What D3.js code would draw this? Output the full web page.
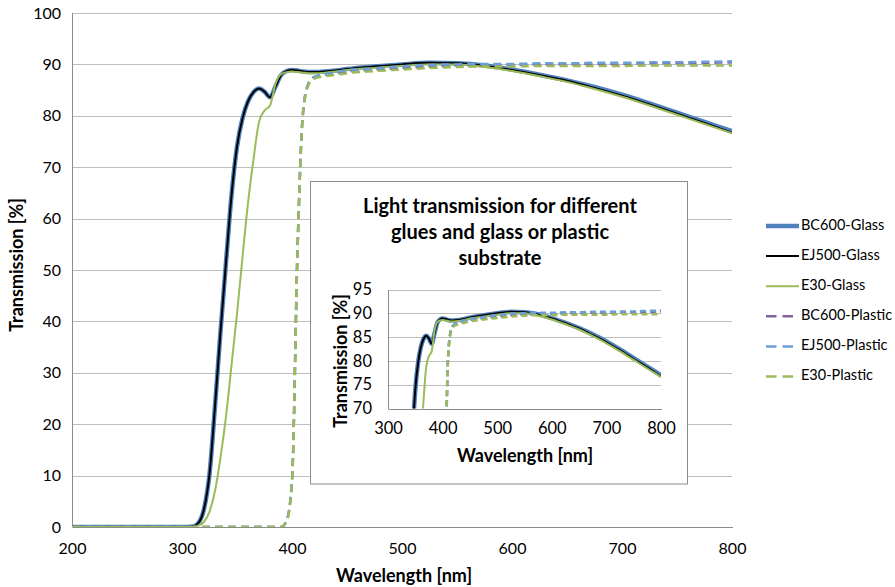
<!DOCTYPE html>
<html>
<head>
<meta charset="utf-8">
<script src="https://cdn.jsdelivr.net/npm/d3@7"></script>
<style>
    body { margin: 0; background: #fff; }
    text { font-family: Lato, 'Open Sans', sans-serif; fill: #000; }
</style>
</head>
<body>
<div id="chart"></div>
<script>
// # Data.
const wavelength = [200, 250, 300, 310, 315, 320, 325, 330, 335, 340, 345, 350, 355, 360, 365,
    370, 375, 380, 385, 390, 395, 400, 405, 410, 415, 420, 430, 440, 450, 475, 500, 525, 550,
    575, 600, 625, 650, 675, 700, 725, 750, 775, 800]

const bc600Glass = [0, 0, 0, 0.1, 0.8, 3.5, 10.3, 23.5, 38, 51.5, 64.5, 74, 79.5, 82.8, 84.6,
    85.3, 84.7, 83.6, 85.7, 87.9, 88.7, 88.9, 88.8, 88.6, 88.5, 88.5, 88.6, 88.8, 89.1, 89.6, 90.0, 90.3, 90.2,
    89.8, 89.0, 88.0, 86.9, 85.6, 84.1, 82.4, 80.6, 78.8, 77.0]
const ej500Glass = [0, 0, 0, 0.1, 0.8, 3.5, 10.3, 23.5, 38, 51.5, 64.5, 74, 79.5, 82.8, 84.6,
    85.3, 84.7, 83.6, 85.7, 87.9, 88.7, 88.9, 88.8, 88.6, 88.5, 88.5, 88.6, 88.8, 89.1, 89.6, 90.0, 90.3, 90.2,
    89.7, 88.9, 87.9, 86.8, 85.4, 83.9, 82.2, 80.4, 78.6, 76.7]
const e30Glass = [0, 0, 0, 0, 0.3, 1, 3, 7, 13.5, 21.5, 31.5, 41.5, 52.5, 63, 71.5,
    78.8, 81, 82, 86.2, 88.1, 88.5, 88.6, 88.5, 88.4, 88.3, 88.3, 88.4, 88.6, 88.9, 89.3, 89.7, 90.0, 90.0,
    89.5, 88.7, 87.7, 86.6, 85.2, 83.7, 82.0, 80.2, 78.4, 76.6]
const bc600Plastic = [0, 0, 0, 0, 0, 0, 0, 0, 0, 0, 0, 0, 0, 0, 0,
    0, 0, 0, 0, 0, 1.2, 9, 54, 80.7, 86.3, 87.5, 88.0, 88.3, 88.6, 89.0, 89.3, 89.6, 89.8,
    89.9, 89.9, 90.0, 90.0, 90.1, 90.1, 90.2, 90.2, 90.3, 90.4]
const ej500Plastic = [0, 0, 0, 0, 0, 0, 0, 0, 0, 0, 0, 0, 0, 0, 0,
    0, 0, 0, 0, 0, 1.2, 9, 54, 80.7, 86.3, 87.5, 88.1, 88.5, 88.8, 89.2, 89.6, 89.9, 90.0,
    90.1, 90.1, 90.2, 90.2, 90.3, 90.3, 90.4, 90.4, 90.5, 90.6]
const e30Plastic = [0, 0, 0, 0, 0, 0, 0, 0, 0, 0, 0, 0, 0, 0, 0,
    0, 0, 0, 0, 0, 1.0, 8.5, 53, 80.3, 86.0, 87.2, 87.7, 88.0, 88.3, 88.7, 89.0, 89.3, 89.5,
    89.6, 89.6, 89.7, 89.7, 89.7, 89.7, 89.8, 89.8, 89.8, 89.8]

const seriesNames = ['BC600-Glass', 'EJ500-Glass', 'E30-Glass', 'BC600-Plastic', 'EJ500-Plastic', 'E30-Plastic']
const seriesValues = [bc600Glass, ej500Glass, e30Glass, bc600Plastic, ej500Plastic, e30Plastic]

const mainXTicks = [200, 300, 400, 500, 600, 700, 800]
const mainYTicks = [0, 10, 20, 30, 40, 50, 60, 70, 80, 90, 100]
const insetXTicks = [300, 400, 500, 600, 700, 800]
const insetYTicks = [70, 75, 80, 85, 90, 95]
const insetTitle = ['Light transmission for different', 'glues and glass or plastic', 'substrate']

// # Styles.
const STYLE = {
    'BC600-Glass':   {color: '#4F81BD', width: 4.5, dash: null},
    'EJ500-Glass':   {color: '#000000', width: 2,   dash: null},
    'E30-Glass':     {color: '#9BBB59', width: 2,   dash: null},
    'BC600-Plastic': {color: '#8064A2', width: 2.5, dash: '8,5'},
    'EJ500-Plastic': {color: '#6A9FD8', width: 2.5, dash: '8,5'},
    'E30-Plastic':   {color: '#9BBB59', width: 2.5, dash: '8,5'},
}
const GRID = '#BEBEBE'
const AXIS = '#8C8C8C'

const series = seriesNames.map((name, i) => ({
    name,
    points: wavelength.map((w, j) => ({w, t: seriesValues[i][j]}))
}))

let width = 895, height = 587
let svg = d3.select('#chart')
    .append('svg')
    .attr('width', width)
    .attr('height', height)
svg.append('rect')
    .attr('width', width)
    .attr('height', height)
    .attr('fill', '#fff')

// # Draws one plot (grid, axes, lines) into a group.
function plot(config) {
    let {g, x, y, xTicks, yTicks, clipID, fontSize, xLabelY, yLabelGap, dash} = config
    let [x0, x1] = x.range()
    let [y0, y1] = y.range()

    g.append('g')
        .attr('transform', `translate(${x0},0)`)
        .call(d3.axisLeft(y).tickValues(yTicks).tickSize(-(x1 - x0)).tickPadding(yLabelGap))
        .call(a => a.select('.domain').remove())
        .call(a => a.selectAll('.tick line').attr('stroke', GRID).attr('shape-rendering', 'crispEdges'))
        .call(a => a.selectAll('.tick text').attr('font-size', fontSize).attr('font-family', 'Lato'))
    g.append('g')
        .attr('transform', `translate(0,${y0})`)
        .call(d3.axisBottom(x).tickValues(xTicks).tickSize(0).tickPadding(xLabelY))
        .call(a => a.select('.domain').attr('stroke', AXIS).attr('shape-rendering', 'crispEdges'))
        .call(a => a.selectAll('.tick text').attr('font-size', fontSize).attr('font-family', 'Lato'))
    g.append('line')
        .attr('x1', x0).attr('x2', x0)
        .attr('y1', y0).attr('y2', y1)
        .attr('stroke', AXIS)
        .attr('shape-rendering', 'crispEdges')

    g.append('clipPath')
        .attr('id', clipID)
        .append('rect')
        .attr('x', x0).attr('y', y1 - 3)
        .attr('width', x1 - x0).attr('height', y0 - y1 + 3)

    let line = d3.line()
        .x(p => x(p.w))
        .y(p => y(p.t))
        .curve(d3.curveMonotoneX)
    g.append('g')
        .attr('clip-path', `url(#${clipID})`)
        .selectAll('path')
        .data(series)
        .enter().append('path')
        .attr('d', s => line(s.points))
        .attr('fill', 'none')
        .attr('stroke', s => STYLE[s.name].color)
        .attr('stroke-width', s => STYLE[s.name].width)
        .attr('stroke-dasharray', s => STYLE[s.name].dash ? dash : null)
        .attr('stroke-linejoin', 'round')
}

// # Main chart.
let mainX = d3.scaleLinear().domain([200, 800]).range([72, 732])
let mainY = d3.scaleLinear().domain([0, 100]).range([527, 13])
plot({g: svg.append('g'), x: mainX, y: mainY, xTicks: mainXTicks, yTicks: mainYTicks,
      clipID: 'clipMain', fontSize: '16px', xLabelY: 16, yLabelGap: 11, dash: '8,5'})

svg.append('text')
    .attr('x', 404).attr('y', 577)
    .attr('text-anchor', 'middle').attr('dominant-baseline', 'middle')
    .attr('font-size', '18px').attr('font-weight', 'bold')
    .text('Wavelength [nm]')
svg.append('text')
    .attr('transform', 'translate(18,265) rotate(-90)')
    .attr('text-anchor', 'middle').attr('dominant-baseline', 'middle')
    .attr('font-size', '18px').attr('font-weight', 'bold')
    .text('Transmission [%]')

// # Legend.
let legend = svg.append('g')
    .selectAll('g')
    .data(seriesNames)
    .enter().append('g')
    .attr('transform', (_, i) => `translate(766,${226 + i * 30.1})`)
legend.append('line')
    .attr('x1', 0).attr('x2', 33)
    .attr('stroke', n => STYLE[n].color)
    .attr('stroke-width', n => STYLE[n].dash ? 2.5 : STYLE[n].width)
    .attr('stroke-dasharray', n => STYLE[n].dash ? '10.5,6' : null)
legend.append('text')
    .attr('x', 35)
    .attr('dominant-baseline', 'middle')
    .attr('font-size', '14.5px')
    .text(n => n)

// # Inset chart.
let inset = svg.append('g')
inset.append('rect')
    .attr('x', 310.5).attr('y', 181.5)
    .attr('width', 377).attr('height', 302.5)
    .attr('fill', '#fff')
    .attr('stroke', AXIS)
inset.selectAll('text.title')
    .data(insetTitle)
    .enter().append('text')
    .attr('class', 'title')
    .attr('x', 500).attr('y', (_, i) => 208 + i * 26)
    .attr('text-anchor', 'middle').attr('dominant-baseline', 'middle')
    .attr('font-size', '20px').attr('font-weight', 'bold')
    .text(t => t)

let insetX = d3.scaleLinear().domain([300, 800]).range([388, 661])
let insetY = d3.scaleLinear().domain([70, 95]).range([408.5, 289.5])
plot({g: inset.append('g'), x: insetX, y: insetY, xTicks: insetXTicks, yTicks: insetYTicks,
      clipID: 'clipInset', fontSize: '16.5px', xLabelY: 14, yLabelGap: 16, dash: '6,4'})

inset.append('text')
    .attr('x', 525).attr('y', 457)
    .attr('text-anchor', 'middle').attr('dominant-baseline', 'middle')
    .attr('font-size', '18px').attr('font-weight', 'bold')
    .text('Wavelength [nm]')
inset.append('text')
    .attr('transform', 'translate(342,361) rotate(-90)')
    .attr('text-anchor', 'middle').attr('dominant-baseline', 'middle')
    .attr('font-size', '18px').attr('font-weight', 'bold')
    .text('Transmission [%]')
</script>
</body>
</html>
